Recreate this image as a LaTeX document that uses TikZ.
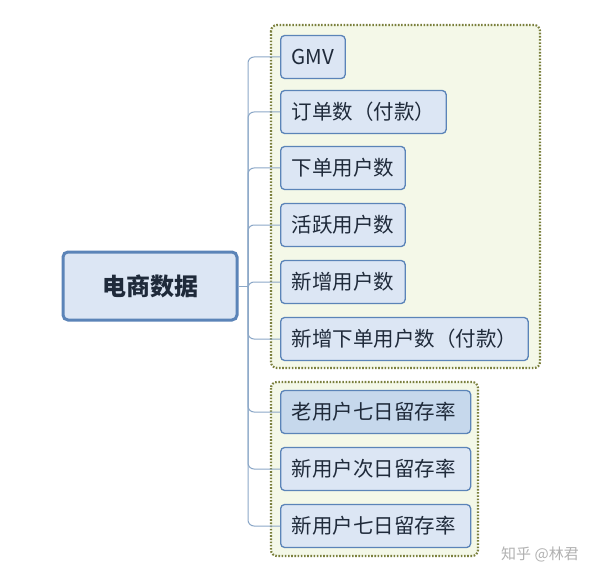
\documentclass[tikz,border=0pt]{standalone}
\usepackage{fontspec}
\setmainfont{Noto Sans CJK SC}
\begin{document}
\begin{tikzpicture}[x=1pt,y=-1pt,
  leaf/.style={draw=boxline,line width=1.3pt,fill=boxfill,rounded corners=4pt,anchor=west,minimum height=43pt,inner xsep=11pt,font=\fontsize{20.5}{22}\selectfont,text=textc},
  grp/.style={draw=grpline,line width=2.2pt,dash pattern=on 1.6pt off 1.6pt,fill=grpfill,rounded corners=6pt},
  conn/.style={draw=connc,line width=1pt,rounded corners=6pt}]
\definecolor{boxline}{HTML}{5B84B8}
\definecolor{boxfill}{HTML}{DCE6F4}
\definecolor{hifill}{HTML}{C6D8EC}
\definecolor{grpline}{HTML}{7A7F3C}
\definecolor{grpfill}{HTML}{F4F8E8}
\definecolor{connc}{HTML}{8CA8C8}
\definecolor{textc}{HTML}{1F2A3A}
\useasboundingbox (0,0) rectangle (600,583);
\fill[white] (0,0) rectangle (600,583);
\draw[grp] (271,25) rectangle (540,368);
\draw[grp] (271,382) rectangle (478,556);
\node[draw=boxline,line width=3pt,fill=boxfill,rounded corners=5pt,minimum width=174pt,minimum height=68pt,font=\bfseries\fontsize{24}{26}\selectfont,text=textc] (root) at (150,286) {电商数据};
\node[leaf] (a) at (280,57) {GMV};
\node[leaf] (b) at (280,112) {订单数（付款）};
\node[leaf] (c) at (280,168) {下单用户数};
\node[leaf] (d) at (280,225) {活跃用户数};
\node[leaf] (e) at (280,282) {新增用户数};
\node[leaf] (f) at (280,339) {新增下单用户数（付款）};
\node[leaf,fill=hifill,text width=168pt,align=left] (g) at (280,412) {老用户七日留存率};
\node[leaf,text width=168pt,align=left] (h) at (280,469) {新用户次日留存率};
\node[leaf,text width=168pt,align=left] (i) at (280,526) {新用户七日留存率};
\coordinate (t) at (248,286);
\draw[conn] (root.east) -- (t);
\foreach \n in {a,b,c,d,e,f,g,h,i}{\draw[conn] (t) |- (\n.west);}
\node[text=gray!60,font=\fontsize{15}{16}\selectfont] (w) at (540,554) {知乎 @林君};
\end{tikzpicture}
\end{document}
